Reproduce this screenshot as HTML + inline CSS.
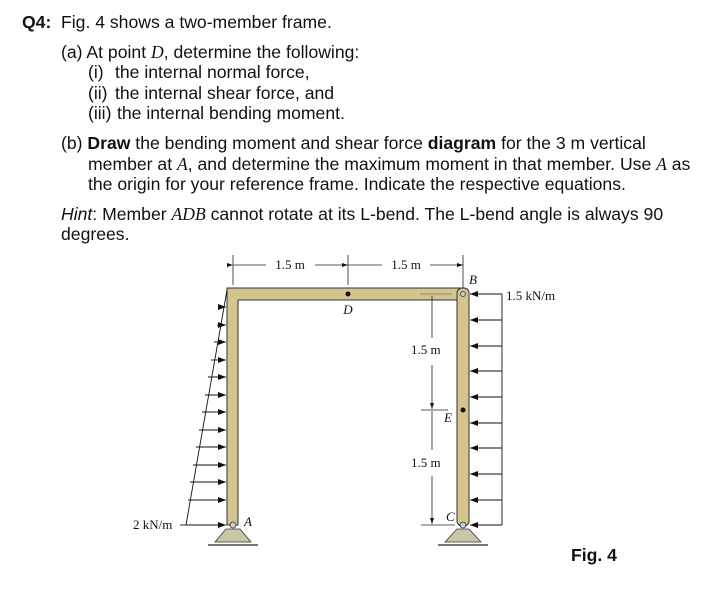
<!DOCTYPE html>
<html><head><meta charset="utf-8"><style>
body{margin:0;background:#fff;width:728px;height:605px;overflow:hidden}
svg{display:block}
.t{font-family:"Liberation Sans",Arial,sans-serif;font-size:17.6px;fill:#111}
.s{font-family:"Liberation Serif",serif;font-size:13px;fill:#111}
.i{font-family:"Liberation Serif",serif;font-style:italic}
</style></head><body>
<svg width="728" height="605" viewBox="0 0 728 605" xmlns="http://www.w3.org/2000/svg">
<defs>
<marker id="ar" markerWidth="8" markerHeight="6" refX="8" refY="3" orient="auto" markerUnits="userSpaceOnUse"><path d="M0,0 L8,3 L0,6 z" fill="#111"/></marker>
<marker id="sm" markerWidth="6" markerHeight="4" refX="6" refY="2" orient="auto" markerUnits="userSpaceOnUse"><path d="M0,0 L6,2 L0,4 z" fill="#111"/></marker>
</defs>
<text class="t" x="22" y="28"><tspan font-weight="bold">Q4:</tspan></text>
<text class="t" x="61" y="28">Fig. 4 shows a two-member frame.</text>
<text class="t" x="61" y="58">(a) At point <tspan class="i">D</tspan>, determine the following:</text>
<text class="t" x="88" y="78">(i)</text><text class="t" x="115" y="78">the internal normal force,</text>
<text class="t" x="88" y="99">(ii)</text><text class="t" x="115" y="99">the internal shear force, and</text>
<text class="t" x="88" y="119">(iii)</text><text class="t" x="117" y="119">the internal bending moment.</text>
<text class="t" x="61" y="149">(b) <tspan font-weight="bold">Draw</tspan> the bending moment and shear force <tspan font-weight="bold">diagram</tspan> for the 3 m vertical</text>
<text class="t" x="88" y="170">member at <tspan class="i">A</tspan>, and determine the maximum moment in that member. Use <tspan class="i">A</tspan> as</text>
<text class="t" x="88" y="190">the origin for your reference frame. Indicate the respective equations.</text>
<text class="t" x="61" y="220"><tspan font-style="italic">Hint</tspan>: Member <tspan class="i">ADB</tspan> cannot rotate at its L-bend. The L-bend angle is always 90</text>
<text class="t" x="61" y="240">degrees.</text>

<g stroke="#222" stroke-width="0.8" fill="none">
<line x1="233" y1="255" x2="233" y2="285"/><line x1="348" y1="255" x2="348" y2="285"/><line x1="463" y1="255" x2="463" y2="290"/>
<line x1="233" y1="265" x2="266" y2="265" marker-start="url(#sm)"/>
<line x1="315" y1="265" x2="348" y2="265" marker-end="url(#sm)"/>
<line x1="348" y1="265" x2="382" y2="265"/>
<line x1="430" y1="265" x2="463" y2="265" marker-end="url(#sm)"/>
</g>
<text class="s" x="290" y="269" text-anchor="middle">1.5 m</text>
<text class="s" x="406" y="269" text-anchor="middle">1.5 m</text>

<path d="M227,525 L227,288 L463,288 L463,300 L238,300 L238,525 Z" fill="#d4c48e" stroke="#333" stroke-width="1"/>
<rect x="457" y="288" width="12" height="238" rx="5" fill="#d4c48e" stroke="#333" stroke-width="1"/>
<line x1="420" y1="294" x2="452" y2="294" stroke="#888" stroke-width="1"/>
<circle cx="463" cy="294" r="2.5" fill="#ccc" stroke="#333" stroke-width="0.8"/>
<circle cx="348" cy="294" r="2.5" fill="#111"/>
<text class="s i" x="348" y="314" text-anchor="middle" font-size="14">D</text>
<text class="s i" x="469" y="284" font-size="13">B</text>
<circle cx="463" cy="410" r="2.5" fill="#111"/>

<g stroke="#333" stroke-width="0.8">
<path d="M226,529 L240,529 L251,542 L215,542 Z" fill="#c8c8a8"/>
<line x1="208" y1="545" x2="258" y2="545" stroke="#777" stroke-width="2"/>
<circle cx="233" cy="525" r="3" fill="#ccc"/>
<path d="M457,529 L469,529 L481,542 L445,542 Z" fill="#c8c8a8"/>
<line x1="438" y1="545" x2="488" y2="545" stroke="#777" stroke-width="2"/>
<circle cx="463" cy="525" r="3" fill="#ccc"/>
</g>
<text class="s i" x="244" y="526" font-size="13">A</text>
<text class="s i" x="446" y="521" font-size="13">C</text>

<g stroke="#111" stroke-width="0.9" fill="none">
<line x1="227" y1="290" x2="186" y2="525"/>
<line x1="186" y1="525" x2="180" y2="525"/>
<line x1="223" y1="307" x2="226" y2="307" marker-end="url(#ar)"/>
<line x1="217" y1="325" x2="226" y2="325" marker-end="url(#ar)"/>
<line x1="214" y1="342" x2="226" y2="342" marker-end="url(#ar)"/>
<line x1="211" y1="360" x2="226" y2="360" marker-end="url(#ar)"/>
<line x1="208" y1="377" x2="226" y2="377" marker-end="url(#ar)"/>
<line x1="205" y1="395" x2="226" y2="395" marker-end="url(#ar)"/>
<line x1="202" y1="412" x2="226" y2="412" marker-end="url(#ar)"/>
<line x1="199" y1="430" x2="226" y2="430" marker-end="url(#ar)"/>
<line x1="196" y1="447" x2="226" y2="447" marker-end="url(#ar)"/>
<line x1="193" y1="465" x2="226" y2="465" marker-end="url(#ar)"/>
<line x1="190" y1="482" x2="226" y2="482" marker-end="url(#ar)"/>
<line x1="188" y1="500" x2="226" y2="500" marker-end="url(#ar)"/>
<line x1="186" y1="525" x2="226" y2="525" marker-end="url(#ar)"/>
</g>
<text class="s" x="133" y="529">2 kN/m</text>

<g stroke="#111" stroke-width="0.9" fill="none">
<line x1="502" y1="294" x2="502" y2="525"/>
<line x1="502" y1="294" x2="470" y2="294" marker-end="url(#ar)"/>
<line x1="502" y1="320" x2="470" y2="320" marker-end="url(#ar)"/>
<line x1="502" y1="346" x2="470" y2="346" marker-end="url(#ar)"/>
<line x1="502" y1="371" x2="470" y2="371" marker-end="url(#ar)"/>
<line x1="502" y1="397" x2="470" y2="397" marker-end="url(#ar)"/>
<line x1="502" y1="423" x2="470" y2="423" marker-end="url(#ar)"/>
<line x1="502" y1="448" x2="470" y2="448" marker-end="url(#ar)"/>
<line x1="502" y1="474" x2="470" y2="474" marker-end="url(#ar)"/>
<line x1="502" y1="500" x2="470" y2="500" marker-end="url(#ar)"/>
<line x1="502" y1="525" x2="470" y2="525" marker-end="url(#ar)"/>
</g>
<text class="s" x="506" y="300">1.5 kN/m</text>

<g stroke="#222" stroke-width="0.8" fill="none">
<line x1="421" y1="410" x2="448" y2="410"/>
<line x1="421" y1="525" x2="455" y2="525"/>
<line x1="432" y1="296" x2="432" y2="338"/>
<line x1="432" y1="365" x2="432" y2="409" marker-end="url(#sm)"/>
<line x1="432" y1="411" x2="432" y2="450"/>
<line x1="432" y1="476" x2="432" y2="524" marker-end="url(#sm)"/>
</g>
<text class="s" x="411" y="354">1.5 m</text>
<text class="s" x="411" y="467">1.5 m</text>
<text class="s i" x="444" y="422" font-size="13">E</text>

<text class="t" x="571" y="561" font-weight="bold" font-size="18">Fig. 4</text>
</svg>
</body></html>
